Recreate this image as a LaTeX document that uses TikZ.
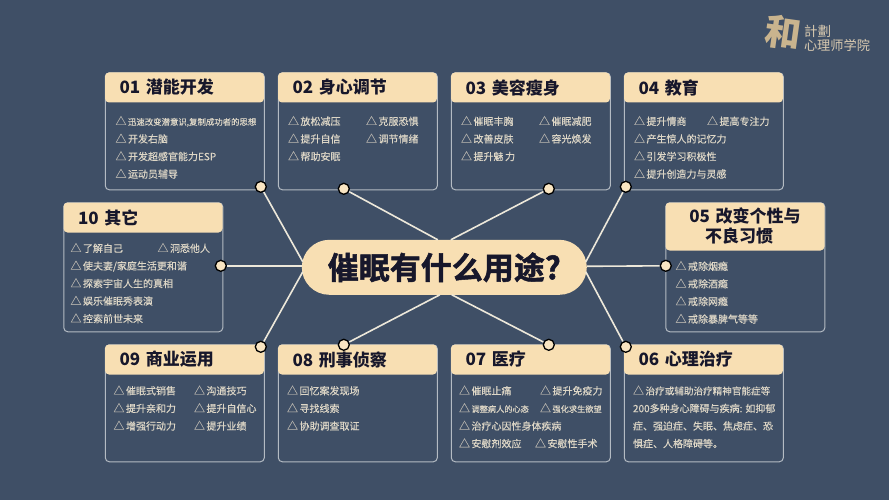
\documentclass[tikz,border=0pt]{standalone}
\usepackage{fontspec}
\setmainfont{Noto Sans CJK SC}
\newfontfamily\titlefont[FakeBold=1.6]{Noto Sans CJK SC Bold}
\newfontfamily\itemfont[FakeBold=0.3]{Noto Sans CJK SC}
\usetikzlibrary{positioning,shapes.misc}
\definecolor{slate}{HTML}{3F4F66}
\definecolor{sand}{HTML}{F8DFB3}
\definecolor{inkdark}{HTML}{17172B}
\definecolor{itemcol}{HTML}{DDD6C6}
\definecolor{rimcol}{HTML}{B4BBC3}
\definecolor{spoke}{HTML}{EDE8DA}
\definecolor{goldlogo}{HTML}{C9B48E}
\newcommand{\tri}{\textcolor{itemcol!70!slate}{\fontsize{11}{17.6}\selectfont △}\hspace{1.5pt}}
\newcommand{\nrw}[1]{{\fontsize{8.2}{17.6}\selectfont #1}}
\tikzset{
  topic/.style={draw=rimcol,line width=1pt,rounded corners=4pt,minimum width=159pt,inner sep=0pt},
  head/.style={fill=sand,rounded corners=4pt,anchor=north west,minimum width=159pt,minimum height=30pt,
    text width=130pt,inner xsep=14.5pt,inner ysep=0pt,align=left,text=inkdark,
    font=\fontsize{17}{20}\selectfont\bfseries},
  items/.style={anchor=north west,inner sep=0pt,align=left,text=itemcol,
    font=\fontsize{10}{17.6}\selectfont\itemfont},
  knob/.style={circle,draw=black,line width=1.3pt,fill=sand!80!white,minimum size=11pt,inner sep=0pt},
  spk/.style={draw=spoke,line width=1.6pt}
}
\begin{document}
\begin{tikzpicture}[x=1pt,y=-1pt,node distance=173pt,on grid]
    \node[fill=slate,minimum width=889pt,minimum height=500pt,inner sep=0pt,anchor=north west] (bg) at (0,0) {};

    % top row
    \node[topic,minimum height=117pt] (box01) at (185,131.5) {};
    \node[topic,minimum height=117pt] (box02) [right=of box01] {};
    \node[topic,minimum height=117pt] (box03) [right=of box02] {};
    \node[topic,minimum height=117pt] (box04) [right=of box03] {};
    % bottom row
    \node[topic,minimum height=117pt] (box09) [below=272pt of box01] {};
    \node[topic,minimum height=117pt] (box08) [right=of box09] {};
    \node[topic,minimum height=117pt] (box07) [right=of box08] {};
    \node[topic,minimum height=117pt] (box06) [right=of box07] {};
    % sides
    \node[topic,minimum height=129pt] (box10) at (143.5,267.5) {};
    \node[topic,minimum height=129pt] (box05) at (745.5,267.5) {};

    \node[head] (head01) at (box01.north west) {01 潜能开发};
    \node[head] (head02) at (box02.north west) {02 身心调节};
    \node[head] (head03) at (box03.north west) {03 美容瘦身};
    \node[head] (head04) at (box04.north west) {04 教育};
    \node[head,minimum height=48pt,align=center] (head05) at (box05.north west) {05 改变个性与\hspace*{20pt}\\不良习惯\hspace*{12pt}};
    \node[head] (head06) at (box06.north west) {06 心理治疗};
    \node[head] (head07) at (box07.north west) {07 医疗};
    \node[head] (head08) at (box08.north west) {08 刑事侦察};
    \node[head] (head09) at (box09.north west) {09 商业运用};
    \node[head] (head10) at (box10.north west) {10 其它};

    \node[items,xshift=10.5pt,yshift=-43.5pt] (txt01) at (box01.north west) {\tri{\fontsize{8.4}{17.6}\selectfont 迅速改变潜意识,复制成功者的思想}\\\tri 开发右脑\\\tri 开发超感官能力ESP\\\tri 运动员辅导};
    \node[items,xshift=10pt,yshift=-43.5pt] (txt02) at (box02.north west) {\tri 放松减压\\\tri 提升自信\\\tri 帮助安眠};
    \node[items,xshift=88pt,yshift=-43.5pt] (txt02b) at (box02.north west) {\tri 克服恐惧\\\tri 调节情绪};
    \node[items,xshift=10pt,yshift=-43.5pt] (txt03) at (box03.north west) {\tri 催眠丰胸\\\tri 改善皮肤\\\tri 提升魅\,力};
    \node[items,xshift=88pt,yshift=-43.5pt] (txt03b) at (box03.north west) {\tri 催眠减肥\\\tri 容光焕发};
    \node[items,xshift=10pt,yshift=-43.5pt] (txt04) at (box04.north west) {\tri 提升情商\\\tri 产生惊人的记忆力\\\tri 引发学习积极性\\\tri 提升创造力与灵感};
    \node[items,xshift=83pt,yshift=-43.5pt] (txt04b) at (box04.north west) {\tri 提高专注力};
    \node[items,xshift=10pt,yshift=-58.5pt] (txt05) at (box05.north west) {\tri 戒除烟瘾\\\tri 戒除酒瘾\\\tri 戒除网瘾\\\tri 戒除暴脾气等等};
    \node[items,xshift=9pt,yshift=-41pt] (txt06) at (box06.north west) {\tri{\fontsize{9.6}{17.6}\selectfont 治疗或辅助治疗精神官能症等}\\200多种身心障碍与疾病: 如抑郁\\症、强迫症、失眠、焦虑症、恐\\惧症、人格障碍等。};
    \node[items,xshift=8pt,yshift=-41pt] (txt07) at (box07.north west) {\tri 催眠止痛\\\tri\nrw{调整病人的心态}\\\tri 治疗心因性身体疾病\\\tri 安慰剂效应};
    \node[items,xshift=89pt,yshift=-41pt] (txt07b) at (box07.north west) {\tri 提升免疫力\\\tri\nrw{强化求生欲望}};
    \node[items,xshift=84pt,yshift=-93.8pt] (txt07c) at (box07.north west) {\tri 安慰性手术};
    \node[items,xshift=9pt,yshift=-41pt] (txt08) at (box08.north west) {\tri 回忆案发现场\\\tri 寻找线索\\\tri 协助调查取证};
    \node[items,xshift=8.5pt,yshift=-41pt] (txt09) at (box09.north west) {\tri 催眠式销售\\\tri 提升亲和力\\\tri 增强行动力};
    \node[items,xshift=89pt,yshift=-41pt] (txt09b) at (box09.north west) {\tri 沟通技巧\\\tri 提升自信心\\\tri 提升业绩};
    \node[items,xshift=7pt,yshift=-40.5pt] (txt10) at (box10.north west) {\tri 了解自己\\\tri 使夫妻/家庭生活更和谐\\\tri 探索宇宙人生的真相\\\tri 娱乐催眠秀表演\\\tri 控索前世未来};
    \node[items,xshift=94pt,yshift=-40.5pt] (txt10b) at (box10.north west) {\tri 洞悉他人};

    \node[rounded rectangle,fill=sand,minimum width=285pt,minimum height=55pt,inner sep=0pt,text=inkdark,font=\fontsize{31}{36}\selectfont\titlefont] (hub) at (444.5,267.5) {催眠有什么用途?};

    \node[knob] (dot01) at (261,187) {};
    \node[knob] (dot02) at (344,189) {};
    \node[knob] (dot03) at (549,189) {};
    \node[knob] (dot04) at (626,187) {};
    \node[knob] (dot05) at (666,266) {};
    \node[knob] (dot06) at (626,347) {};
    \node[knob] (dot07) at (549,345) {};
    \node[knob] (dot08) at (344,345) {};
    \node[knob] (dot09) at (261,347) {};
    \node[knob] (dot10) at (221,266) {};

    \coordinate (end01) at (303,262);
    \coordinate (end02) at (438,240);
    \coordinate (end03) at (451,240);
    \coordinate (end04) at (586,262);
    \coordinate (end05) at (587,266.5);
    \coordinate (end06) at (586,272);
    \coordinate (end07) at (452,295);
    \coordinate (end08) at (440,295);
    \coordinate (end09) at (303,272);
    \coordinate (end10) at (302,266);

    \foreach \n in {01,02,03,04,05,06,07,08,09,10}
      \draw[spk] (end\n) -- (dot\n);

    % logo
    \node[inner sep=0pt,text=goldlogo,rotate=-8,font=\fontsize{36}{36}\selectfont\bfseries] (logomark) at (783,33) {和};
    \node[inner sep=0pt,anchor=west,text=goldlogo!70!white,font=\fontsize{13.5}{14}\selectfont] (logotop) at (804,32) {計劃};
    \node[inner sep=0pt,anchor=west,text=goldlogo!70!white,font=\fontsize{13.2}{14}\selectfont] (logosub) at (804,46) {心理师学院};
\end{tikzpicture}
\end{document}
